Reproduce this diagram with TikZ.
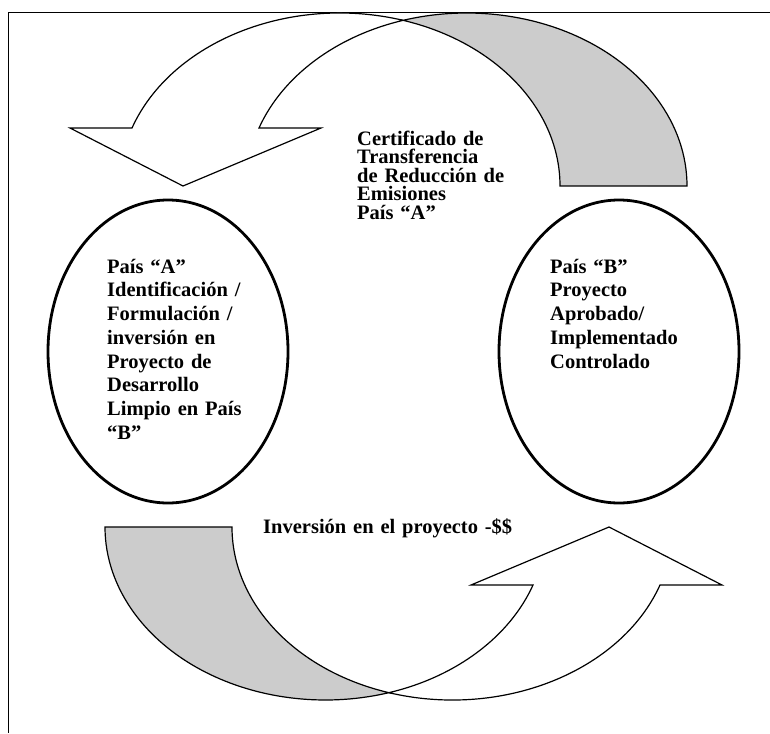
\documentclass[tikz,border=0pt]{standalone}
\usepackage{fontspec}
\setmainfont{Liberation Serif}
\usetikzlibrary{positioning, calc, shapes.geometric}
\definecolor{sombra}{RGB}{204,204,204}

\begin{document}
\begin{tikzpicture}[x=1pt, y=-1pt,
  pais/.style={ellipse, draw, line width=2.8pt, minimum width=240pt, minimum height=303pt, inner sep=0pt},
  texto/.style={font=\bfseries\fontsize{20.5}{23.75}\selectfont, align=left, text width=#1, inner sep=0pt, anchor=base west},
  cinta/.style={draw, fill=white, line width=1.2pt, line join=miter},
  trasera/.style={draw, fill=sombra, line width=1.2pt},
  marco/.style={line width=1.6pt}]

\useasboundingbox (0,0) rectangle (770,733);
\fill[white] (0,0) rectangle (770,733);

% Marco
\draw[marco] (770,12.5) -- (8.5,12.5) -- (8.5,733);

% Flechas curvas (la de abajo es la de arriba girada)
\foreach \giro/\px/\py in {0/0/0, 180/792/713}{
  \begin{scope}[shift={(\px,\py)}, rotate=\giro]
    \coordinate (cruce) at (403.1,20.34);
    \coordinate (colaExt) at (687,186);
    \coordinate (bandaExt) at (132,128);
    \coordinate (bandaInt) at (259,128);
    \coordinate (barbaIzq) at (70,128);
    \coordinate (barbaDer) at (321,128);
    \coordinate (punta) at (183,186);
    % parte de atras
    \path[trasera] (cruce) arc[start angle=286.745, end angle=360, x radius=220.4, y radius=173]
      -- (colaExt) arc[start angle=0, end angle=-106.745, x radius=220.4, y radius=173] -- cycle;
    % parte de delante con la punta
    \path[cinta] (bandaExt) arc[start angle=199.59, end angle=286.745, x radius=220.4, y radius=173]
      arc[start angle=253.255, end angle=199.59, x radius=220.4, y radius=173]
      -- (barbaDer) -- (punta) -- (barbaIzq) -- cycle;
  \end{scope}
}

% Paises
\node[pais] (paisA) at (168,351.5) {};
\node[pais] (paisB) at (619,351.5) {};

% Textos
\node[texto=160pt] (txtA) at ($(paisA.center)+(-61,-78.5)$) {País ``A''\\Identificación /\\Formulación /\\inversión en\\Proyecto de\\Desarrollo\\Limpio en País\\``B''};
\node[texto=160pt] (txtB) at ($(paisB.center)+(-69,-78.5)$) {País ``B''\\Proyecto\\Aprobado/\\Implementado\\Controlado};
\node[texto=180pt, font=\bfseries\fontsize{20.5}{18.5}\selectfont] (certificado) at (357,145) {Certificado de\\Transferencia\\de Reducción de\\Emisiones\\País ``A''};
\node[texto=300pt] (inversion) at (263,533) {Inversión en el proyecto -\$\$};

\end{tikzpicture}
\end{document}
